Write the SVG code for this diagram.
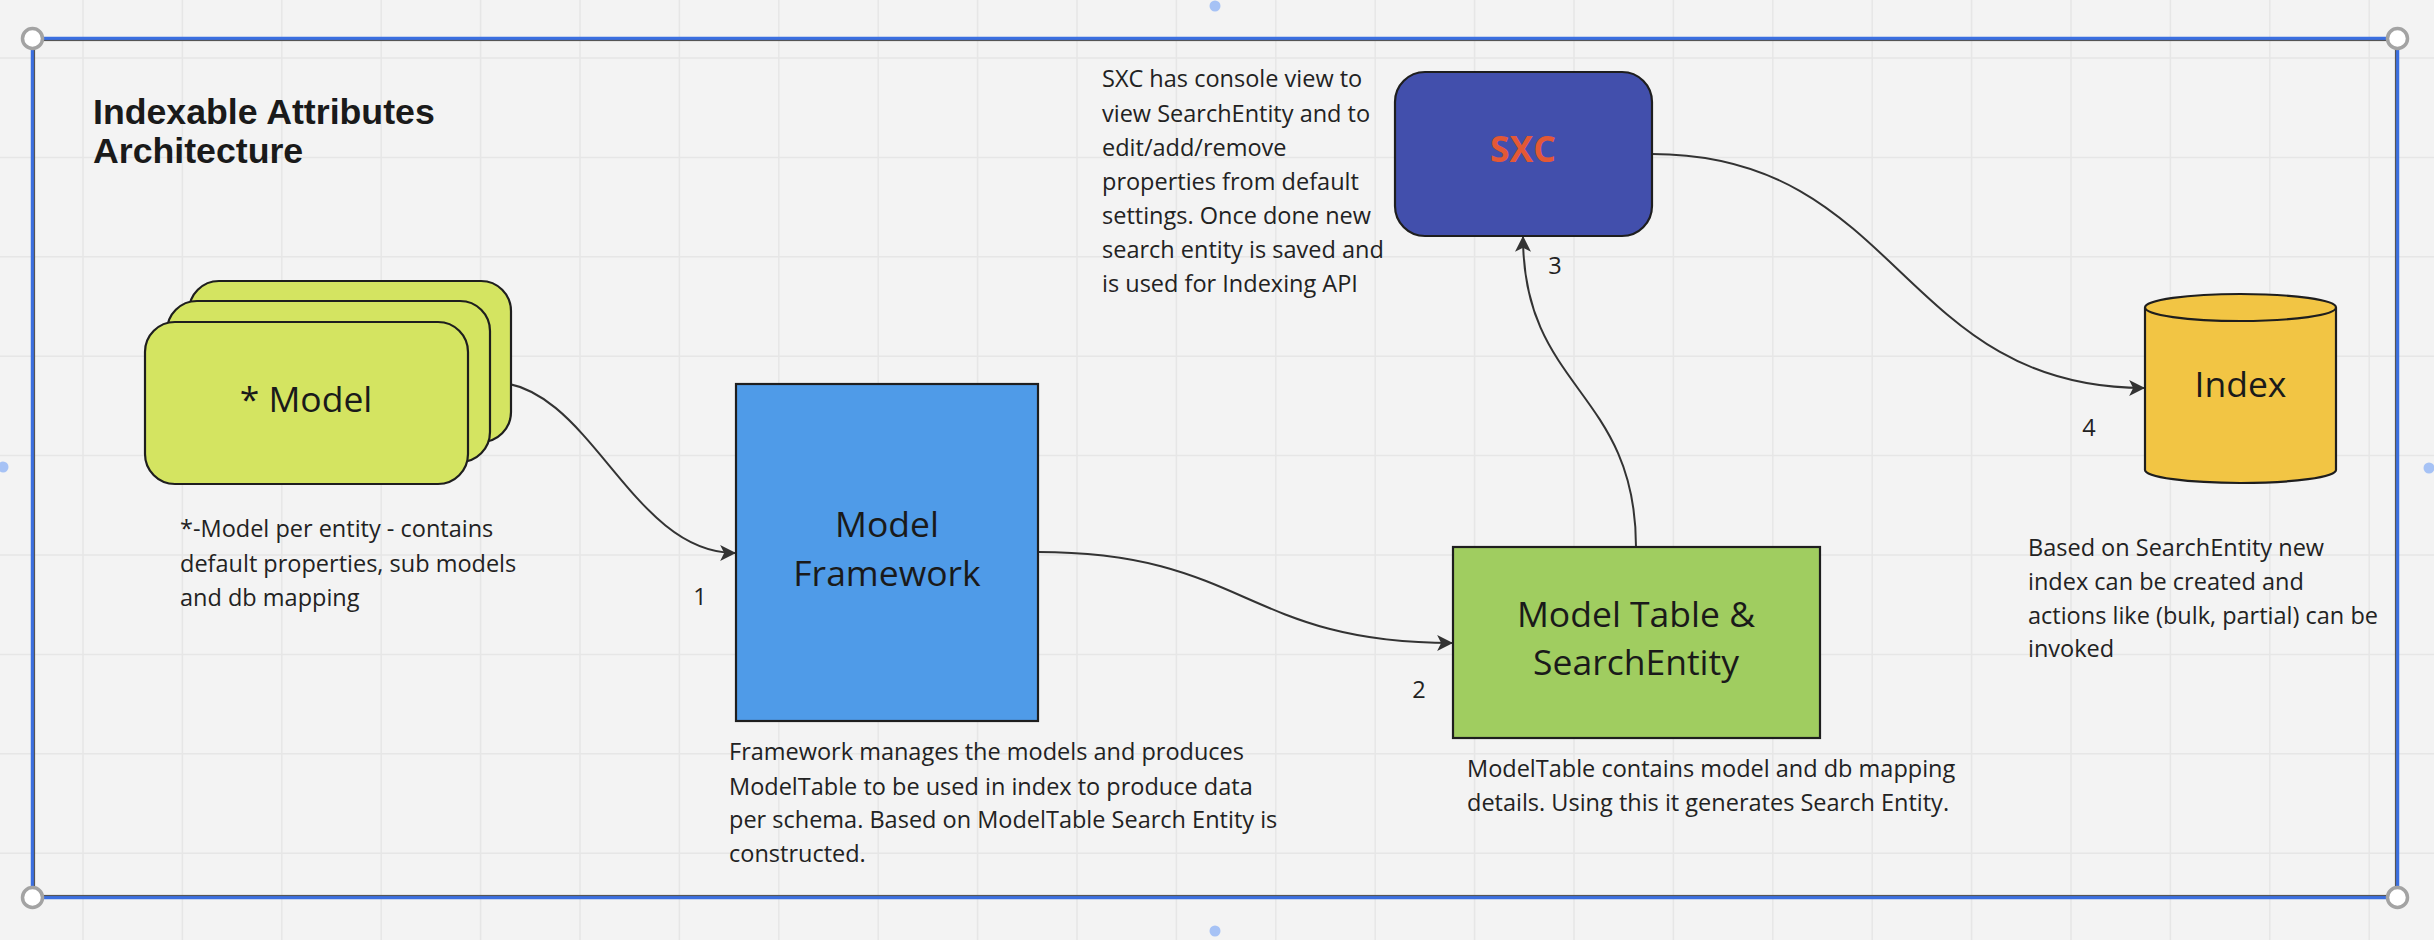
<svg xmlns="http://www.w3.org/2000/svg" width="2434" height="940" viewBox="0 0 2434 940">
<defs>
<style>
.grid{stroke:#e6e6e6;stroke-width:1.5;fill:none}
.txt{font-family:"Open Sans","Noto Sans",sans-serif;font-size:23.5px;fill:#222}
.lbl{font-family:"Open Sans","Noto Sans",sans-serif;font-size:35.5px;fill:#1a1a1a;text-anchor:middle}
.num{font-family:"Open Sans","Noto Sans",sans-serif;font-size:23.5px;fill:#222;text-anchor:middle}
.title{font-family:"Liberation Sans",Arial,sans-serif;font-size:35.7px;font-weight:bold;fill:#1a1a1a}
.edge{fill:none;stroke:#333;stroke-width:2}
.shape{stroke:#1e1e1e;stroke-width:2.2}
.handle{fill:#fff;stroke:#a3a3a3;stroke-width:3.5}
.dot{fill:#a6c2f5}
</style>
<marker id="arr" markerUnits="userSpaceOnUse" markerWidth="16" markerHeight="16" viewBox="0 0 14 14" refX="13" refY="7" orient="auto">
<path d="M0,0 L14,7 L0,14 L3.5,7 Z" fill="#333"/>
</marker>
</defs>
<rect x="0" y="0" width="2434" height="940" fill="#f3f3f3"/>
<path class="grid" d="M83,0V940M182.4,0V940M281.8,0V940M381.2,0V940M480.6,0V940M580,0V940M679.4,0V940M778.8,0V940M878.2,0V940M977.6,0V940M1077,0V940M1176.4,0V940M1275.8,0V940M1375.2,0V940M1474.6,0V940M1574,0V940M1673.4,0V940M1772.8,0V940M1872.2,0V940M1971.6,0V940M2071,0V940M2170.4,0V940M2269.8,0V940M2369.2,0V940M0,58H2434M0,157.4H2434M0,256.8H2434M0,356.2H2434M0,455.6H2434M0,555H2434M0,654.4H2434M0,753.8H2434M0,853.2H2434"/>

<g id="frame">
<rect x="32.5" y="38.5" width="2365" height="859" fill="none" stroke="#3b6fe0" stroke-width="3.5"/>
<rect x="34.5" y="40.5" width="2361" height="855" fill="none" stroke="#555" stroke-width="1.2"/>
<circle class="handle" cx="32.5" cy="38.5" r="10"/>
<circle class="handle" cx="2397.5" cy="38.5" r="10"/>
<circle class="handle" cx="32.5" cy="897.5" r="10"/>
<circle class="handle" cx="2397.5" cy="897.5" r="10"/>
<circle class="dot" cx="1215" cy="6" r="5.5"/>
<circle class="dot" cx="1215" cy="931" r="5.5"/>
<circle class="dot" cx="3" cy="467" r="5.5"/>
<circle class="dot" cx="2429" cy="468" r="5.5"/>
</g>

<g id="title">
<text class="title" x="93" y="124">Indexable Attributes</text>
<text class="title" x="93" y="163">Architecture</text>
</g>

<g id="connectors">
<path class="edge" d="M492,382 C590,382 630,553 735,553" marker-end="url(#arr)"/>
<path class="edge" d="M1038,552 C1245,552 1245,643 1452,643" marker-end="url(#arr)"/>
<path class="edge" d="M1636,547 C1636,390 1523,390 1523,237" marker-end="url(#arr)"/>
<path class="edge" d="M1652,154 C1900,154 1900,388 2144,388" marker-end="url(#arr)"/>
<text class="num" x="700" y="605">1</text>
<text class="num" x="1419" y="698">2</text>
<text class="num" x="1555" y="274">3</text>
<text class="num" x="2089" y="436">4</text>
</g>

<g id="model">
<rect class="shape" x="189" y="281" width="322" height="161" rx="30" fill="#d4e461"/>
<rect class="shape" x="167" y="301" width="323" height="161" rx="30" fill="#d4e461"/>
<rect class="shape" x="145" y="322" width="323" height="162" rx="30" fill="#d4e461"/>
<text class="lbl" x="306" y="412">* Model</text>
</g>
<g id="model-note">
<text class="txt" x="180" y="537">*-Model per entity - contains</text>
<text class="txt" x="180" y="572">default properties, sub models</text>
<text class="txt" x="180" y="606">and db mapping</text>
</g>

<g id="framework">
<rect class="shape" x="736" y="384" width="302" height="337" fill="#4f9be8"/>
<text class="lbl" x="887" y="537">Model</text>
<text class="lbl" x="887" y="586">Framework</text>
</g>
<g id="framework-note">
<text class="txt" x="729" y="760">Framework manages the models and produces</text>
<text class="txt" x="729" y="795">ModelTable to be used in index to produce data</text>
<text class="txt" x="729" y="828">per schema. Based on ModelTable Search Entity is</text>
<text class="txt" x="729" y="862">constructed.</text>
</g>

<g id="modeltable">
<rect class="shape" x="1453" y="547" width="367" height="191" fill="#a0cd60"/>
<text class="lbl" x="1636" y="627">Model Table &amp;</text>
<text class="lbl" x="1636" y="675">SearchEntity</text>
</g>
<g id="modeltable-note">
<text class="txt" x="1467" y="777">ModelTable contains model and db mapping</text>
<text class="txt" x="1467" y="811">details. Using this it generates Search Entity.</text>
</g>

<g id="sxc">
<rect class="shape" x="1395" y="72" width="257" height="164" rx="30" fill="#424fac"/>
<text class="lbl" x="1523" y="162" style="font-weight:bold;fill:#e35836">SXC</text>
</g>
<g id="sxc-note">
<text class="txt" x="1102" y="87">SXC has console view to</text>
<text class="txt" x="1102" y="122">view SearchEntity and to</text>
<text class="txt" x="1102" y="156">edit/add/remove</text>
<text class="txt" x="1102" y="190">properties from default</text>
<text class="txt" x="1102" y="224">settings. Once done new</text>
<text class="txt" x="1102" y="258">search entity is saved and</text>
<text class="txt" x="1102" y="292">is used for Indexing API</text>
</g>

<g id="index">
<path class="shape" d="M2145,307.5 V470 A95.5,13 0 0 0 2336,470 V307.5 A95.5,13.5 0 0 0 2145,307.5 Z" fill="#f2c544"/>
<path class="shape" d="M2145,307.5 A95.5,13.5 0 0 0 2336,307.5" fill="none"/>
<text class="lbl" x="2240.5" y="397">Index</text>
</g>
<g id="index-note">
<text class="txt" x="2028" y="556">Based on SearchEntity new</text>
<text class="txt" x="2028" y="590">index can be created and</text>
<text class="txt" x="2028" y="624">actions like (bulk, partial) can be</text>
<text class="txt" x="2028" y="657">invoked</text>
</g>
</svg>
